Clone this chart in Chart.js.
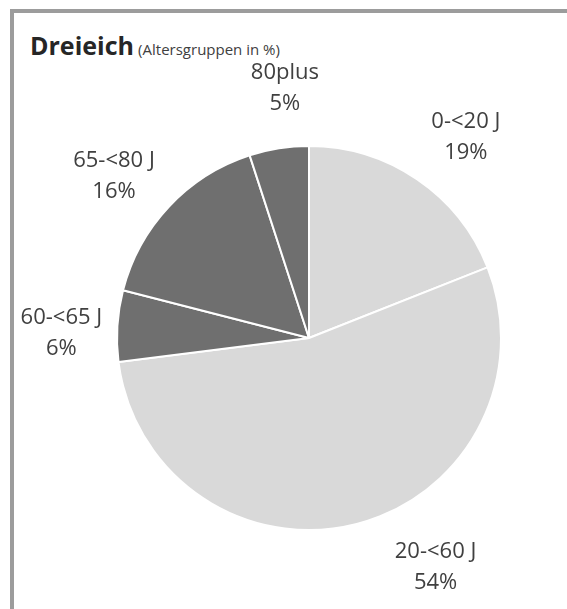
<!DOCTYPE html>
<html>
<head>
<meta charset="utf-8">
<script src="https://cdn.jsdelivr.net/npm/chart.js@4/dist/chart.umd.min.js"></script>
<style>
    body { margin: 0; background: #fff; font-family: 'Open Sans', sans-serif; }
    #frame {
        position: absolute; left: 10px; top: 9px; width: 620px; height: 640px;
        border-top: 4px solid #9c9c9c; border-left: 4px solid #9c9c9c;
    }
    #title { position: absolute; left: 30px; top: 28px; color: #262626; white-space: nowrap; }
    #title b { font-size: 25px; font-weight: 700; }
    #title span { font-size: 15px; color: #404040; }
    #chart { position: absolute; left: 0; top: 0; }
</style>
</head>
<body>
<div id="frame"></div>
<div id="title"><b>Dreieich</b> <span>(Altersgruppen in %)</span></div>
<canvas id="chart" width="567" height="609"></canvas>
<script>
// --- DATA ---
const categories = ['0-<20 J', '20-<60 J', '60-<65 J', '65-<80 J', '80plus'];
const shares = [19, 54, 6, 16, 5];
const sliceColors = ['#d9d9d9', '#d9d9d9', '#6f6f6f', '#6f6f6f', '#6f6f6f'];

// label placement tweaks (angle shift in degrees, radius factor), like Excel best fit
const labelNudge = [
    { a: 3.7, f: 1.33 },
    { a: -14.6, f: 1.36 },
    { a: -2.4, f: 1.29 },
    { a: -3.5, f: 1.32 },
    { a: 3.5, f: 1.31 }
];

// --- OUTSIDE LABELS ---
const outsideLabels = {
    id: 'outsideLabels',
    afterDatasetsDraw(chart) {
        const ctx = chart.ctx;
        const meta = chart.getDatasetMeta(0);
        ctx.save();
        ctx.font = '22px "Open Sans"';
        ctx.fillStyle = '#404040';
        ctx.textAlign = 'center';
        ctx.textBaseline = 'middle';
        meta.data.forEach((arc, i) => {
            const mid = (arc.startAngle + arc.endAngle) / 2 + labelNudge[i].a * Math.PI / 180;
            const r = arc.outerRadius * labelNudge[i].f;
            const x = arc.x + Math.cos(mid) * r;
            const y = arc.y + Math.sin(mid) * r;
            ctx.fillText(categories[i], x, y - 15);
            ctx.fillText(shares[i] + '%', x, y + 16);
        });
        ctx.restore();
    }
};

const ctxPie = document.getElementById('chart').getContext('2d');
new Chart(ctxPie, {
    type: 'pie',
    data: {
        labels: categories,
        datasets: [{
            data: shares,
            backgroundColor: sliceColors,
            borderColor: '#ffffff',
            borderWidth: 2
        }]
    },
    options: {
        responsive: false,
        animation: false,
        layout: { padding: { left: 116, right: 65, top: 145, bottom: 78 } },
        plugins: {
            legend: { display: false },
            tooltip: { enabled: false }
        }
    },
    plugins: [outsideLabels]
});
</script>
</body>
</html>
